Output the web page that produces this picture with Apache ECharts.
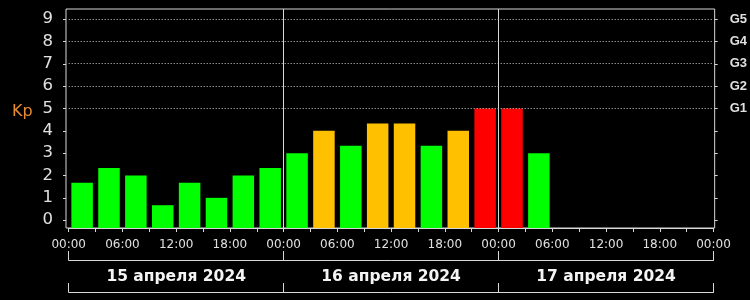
<!DOCTYPE html>
<html>
<head>
<meta charset="utf-8">
<script src="https://cdn.jsdelivr.net/npm/echarts@6/dist/echarts.min.js"></script>
<style>
html,body{margin:0;padding:0;background:#000;}
#chart{width:750px;height:300px;}
</style>
</head>
<body>
<div id="chart"></div>
<script>
// ---- data ----
const days = ['15 апреля 2024', '16 апреля 2024', '17 апреля 2024'];
const barHours = [1.5, 4.5, 7.5, 10.5, 13.5, 16.5, 19.5, 22.5,
                  25.5, 28.5, 31.5, 34.5, 37.5, 40.5, 43.5, 46.5,
                  49.5, 52.5];
const kpValues = [1.67, 2.33, 2, 0.67, 1.67, 1, 2, 2.33,
                  3, 4, 3.33, 4.33, 4.33, 3.33, 4, 5,
                  5, 3];
const hourLabels = ['00:00', '06:00', '12:00', '18:00'];
const kpTicks = [0, 1, 2, 3, 4, 5, 6, 7, 8, 9];
const gLevels = [5, 6, 7, 8, 9];
const gLabels = ['G1', 'G2', 'G3', 'G4', 'G5'];
const dayBoundaries = [24, 48];

const Y_MIN = -0.35, Y_MAX = 9.45;
const lineCol = '#d8d8d8';
const textCol = '#e0e0e0';

function barColor(v) {
  if (v >= 5) return '#ff0000';
  if (v >= 4) return '#ffc000';
  return '#00ff00';
}

const chart = echarts.init(document.getElementById('chart'), null, {renderer: 'canvas'});
chart.setOption({
  backgroundColor: '#000',
  animation: false,
  title: {
    text: 'Kp', left: 7, top: 99,
    textStyle: {color: '#e88c30', fontSize: 16, fontWeight: 'normal', fontFamily: 'DejaVu Sans'}
  },
  grid: [
    {left: 66, right: 35, top: 9, bottom: 72, show: true, borderColor: lineCol, borderWidth: 1, backgroundColor: 'transparent'},
    {left: 68.7, right: 36.5, top: 9, bottom: 72}
  ],
  xAxis: [
    {gridIndex: 0, type: 'value', min: 0, max: 72, show: false},
    {gridIndex: 1, type: 'value', min: 0, max: 72, interval: 3,
     axisLine: {show: true, onZero: false, lineStyle: {color: lineCol, width: 1}},
     axisTick: {show: true, length: 4, lineStyle: {color: lineCol}},
     splitLine: {show: false},
     axisLabel: {color: textCol, fontSize: 12, fontFamily: 'DejaVu Sans', margin: 11,
       formatter: v => (v % 6 === 0) ? hourLabels[(v % 24) / 6] : ''}
    },
    {gridIndex: 1, type: 'category', data: days, position: 'bottom', offset: 32,
     axisLine: {show: true, onZero: false, lineStyle: {color: lineCol}},
     axisTick: {show: true, inside: true, length: 9, lineStyle: {color: lineCol}},
     axisLabel: {color: '#f4f4f4', fontSize: 15.5, fontWeight: 'bold', fontFamily: 'DejaVu Sans', margin: 9}
    },
    {gridIndex: 1, type: 'category', data: days, position: 'bottom', offset: 64,
     axisLine: {show: true, onZero: false, lineStyle: {color: lineCol}},
     axisTick: {show: true, inside: true, length: 9, lineStyle: {color: lineCol}},
     axisLabel: {show: false}
    }
  ],
  yAxis: [
    {gridIndex: 0, type: 'value', min: Y_MIN, max: Y_MAX, position: 'left',
     axisLine: {show: false, onZero: false},
     axisTick: {show: true, length: 3, customValues: kpTicks, lineStyle: {color: lineCol}},
     splitLine: {show: false},
     axisLabel: {color: textCol, fontSize: 16.5, fontFamily: 'DejaVu Sans', margin: 13,
       customValues: kpTicks, formatter: v => String(v)}
    },
    {gridIndex: 0, type: 'value', min: Y_MIN, max: Y_MAX, position: 'right',
     axisLine: {show: false, onZero: false},
     axisTick: {show: true, length: 3, customValues: kpTicks, lineStyle: {color: lineCol}},
     splitLine: {show: false},
     axisLabel: {color: textCol, fontSize: 13, fontWeight: 'bold', fontFamily: 'Liberation Sans', margin: 15,
       customValues: gLevels, formatter: v => gLabels[gLevels.indexOf(v)] || ''}
    },
    {gridIndex: 1, type: 'value', min: Y_MIN, max: Y_MAX, startValue: Y_MIN, show: false}
  ],
  series: [{
    type: 'bar',
    xAxisIndex: 1,
    yAxisIndex: 2,
    barWidth: '80%',
    data: barHours.map((h, i) => [h, kpValues[i]]),
    itemStyle: {color: p => barColor(p.value[1])},
    markLine: {
      silent: true,
      symbol: 'none',
      label: {show: false},
      data: [
        ...gLevels.map(g => ({yAxis: g, lineStyle: {type: [1, 2], color: '#cfcfcf', width: 1}})),
        ...dayBoundaries.map(d => ({xAxis: d, lineStyle: {type: 'solid', color: lineCol, width: 1}}))
      ]
    }
  }]
});
</script>
</body>
</html>
